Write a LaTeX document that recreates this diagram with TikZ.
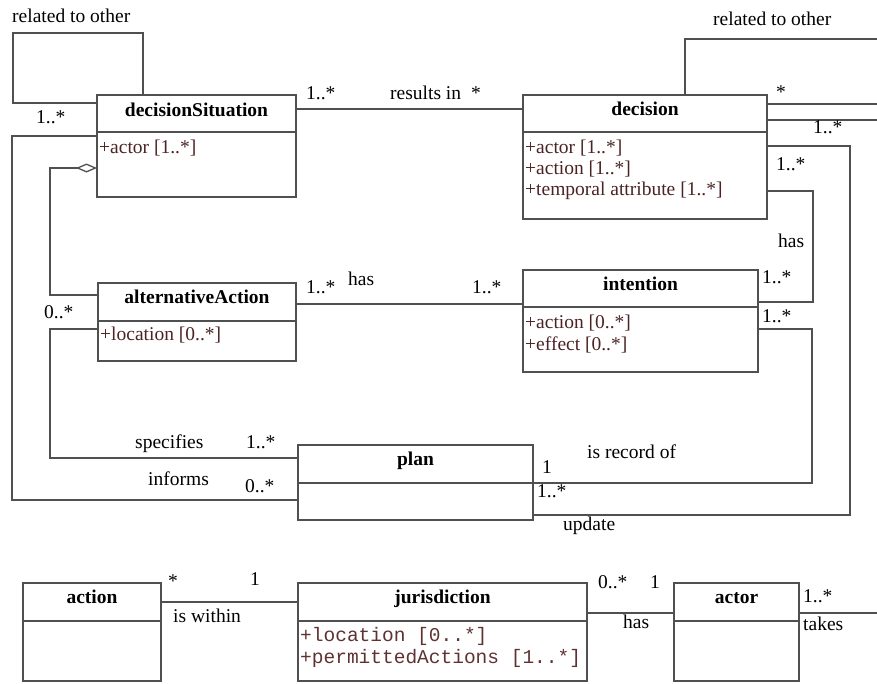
\documentclass[tikz,border=0pt]{standalone}
\usepackage{fontspec}
\setmainfont{Liberation Serif}
\setmonofont{Liberation Mono}
\usetikzlibrary{arrows.meta}
\definecolor{linec}{RGB}{80,80,80}
\definecolor{attrc}{RGB}{75,35,35}
\definecolor{mattrc}{RGB}{95,50,50}
\begin{document}
\begin{tikzpicture}[x=1pt,y=-1pt,
  umlbox/.style={draw=linec, line width=1.3pt, rectangle, inner sep=0, outer sep=0, anchor=north west},
  conn/.style={draw=linec, line width=1.3pt},
  ttl/.style={font=\fontsize{19.5}{22}\selectfont\bfseries, inner sep=0, anchor=base},
  attr/.style={font=\fontsize{19.5}{22}\selectfont, text=attrc, inner sep=0, anchor=base west},
  mattr/.style={font=\fontsize{19.5}{22}\selectfont\ttfamily, text=mattrc, inner sep=0, anchor=base west},
  lbl/.style={font=\fontsize{19.5}{22}\selectfont, inner sep=0, anchor=base west},
]
\useasboundingbox (0,0) rectangle (877,683);

% ---- boxes
\node[umlbox, minimum width=199, minimum height=102] (ds) at (97,95) {};
\node[umlbox, minimum width=244, minimum height=124] (dec) at (523,95) {};
\node[umlbox, minimum width=198, minimum height=78] (aa) at (98,283) {};
\node[umlbox, minimum width=235, minimum height=102] (int) at (523,270) {};
\node[umlbox, minimum width=235, minimum height=75] (plan) at (298,445) {};
\node[umlbox, minimum width=138, minimum height=98] (act) at (23,583) {};
\node[umlbox, minimum width=289, minimum height=98] (jur) at (298,583) {};
\node[umlbox, minimum width=125, minimum height=98] (actor) at (674,583) {};

% ---- dividers
\draw[conn] (ds.west |- 0,132) -- (ds.east |- 0,132);
\draw[conn] (dec.west |- 0,132) -- (dec.east |- 0,132);
\draw[conn] (aa.west |- 0,321) -- (aa.east |- 0,321);
\draw[conn] (int.west |- 0,307) -- (int.east |- 0,307);
\draw[conn] (plan.west |- 0,483) -- (plan.east |- 0,483);
\draw[conn] (act.west |- 0,621) -- (act.east |- 0,621);
\draw[conn] (jur.west |- 0,621) -- (jur.east |- 0,621);
\draw[conn] (actor.west |- 0,621) -- (actor.east |- 0,621);

% ---- titles
\node[ttl] (dst) at (196.5,116) {decisionSituation};
\node[ttl] (dect) at (645,115) {decision};
\node[ttl] (aat) at (197,303) {alternativeAction};
\node[ttl] (intt) at (640.5,290) {intention};
\node[ttl] (plant) at (415.5,465) {plan};
\node[ttl] (actt) at (92,603) {action};
\node[ttl] (jurt) at (442.5,603) {jurisdiction};
\node[ttl] (actort) at (736.5,603) {actor};

% ---- attributes
\node[attr] (dsa1) at (99,153) {+actor [1..*]};
\node[attr] (deca1) at (525,153) {+actor [1..*]};
\node[attr] (deca2) at (525,174) {+action [1..*]};
\node[attr] (deca3) at (525,195) {+temporal attribute [1..*]};
\node[attr] (aaa1) at (100,340) {+location [0..*]};
\node[attr] (inta1) at (525,328) {+action [0..*]};
\node[attr] (inta2) at (525,350) {+effect [0..*]};
\node[mattr] (jura1) at (300,641) {+location [0..*]};
\node[mattr] (jura2) at (300,663) {+permittedActions [1..*]};

% ---- free ends at the right edge
\coordinate (e1) at (877,39);
\coordinate (e2) at (877,104);
\coordinate (e3) at (877,120);
\coordinate (e4) at (877,613);

% ---- connectors
% decisionSituation self association
\draw[conn] (ds.north -| 143,0) |- (13,33) |- (ds.west |- 0,103);
% results in
\draw[conn] (ds.east |- 0,109) -- (dec.west |- 0,109);
% informs
\draw[conn] (ds.west |- 0,136) -| (12,500) -- (plan.west |- 0,500);
% aggregation
\draw[conn, {Diamond[open, length=21pt, width=9pt]}-] (ds.west |- 0,168) -| (50,295) -- (aa.west |- 0,295);
% specifies
\draw[conn] (aa.west |- 0,329) -| (50,458) -- (plan.west |- 0,458);
% has (alternativeAction - intention)
\draw[conn] (aa.east |- 0,304) -- (int.west |- 0,304);
% has (decision - intention)
\draw[conn] (dec.east |- 0,191) -| (813,302) -- (int.east |- 0,302);
% is record of
\draw[conn] (int.east |- 0,329) -| (812,483) -- (plan.east |- 0,483);
% update
\draw[conn] (plan.east |- 0,515) -| (850,146) -- (dec.east |- 0,146);
% decision related to other
\draw[conn] (dec.north -| 685,0) |- (e1);
\draw[conn] (dec.east |- 0,104) -- (e2);
\draw[conn] (dec.east |- 0,120) -- (e3);
% bottom row
\draw[conn] (act.east |- 0,602) -- (jur.west |- 0,602);
\draw[conn] (jur.east |- 0,613) -- (actor.west |- 0,613);
\draw[conn] (actor.east |- 0,613) -- (e4);

% ---- labels
\node[lbl] (l1) at (12,22) {related to other};
\node[lbl] (l2) at (36,123) {1..*};
\node[lbl] (l3) at (306,99) {1..*};
\node[lbl] (l4) at (390,99) {results in};
\node[lbl] (l5) at (471,99) {*};
\node[lbl] (l6) at (713,25) {related to other};
\node[lbl] (l7) at (776,98) {*};
\node[lbl] (l8) at (813,133) {1..*};
\node[lbl] (l9) at (776,170) {1..*};
\node[lbl] (l10) at (778,247) {has};
\node[lbl] (l11) at (762,283) {1..*};
\node[lbl] (l12) at (762,322) {1..*};
\node[lbl] (l13) at (306,293) {1..*};
\node[lbl] (l14) at (348,285) {has};
\node[lbl] (l15) at (472,293) {1..*};
\node[lbl] (l16) at (44,318) {0..*};
\node[lbl] (l17) at (135,448) {specifies};
\node[lbl] (l18) at (246,448) {1..*};
\node[lbl] (l19) at (148,485) {informs};
\node[lbl] (l20) at (245,492) {0..*};
\node[lbl] (l21) at (587,458) {is record of};
\node[lbl] (l22) at (542,473) {1};
\node[lbl] (l23) at (537,497) {1..*};
\node[lbl] (l24) at (563,530) {update};
\node[lbl] (l25) at (168,587) {*};
\node[lbl] (l26) at (250,585) {1};
\node[lbl] (l27) at (173,622) {is within};
\node[lbl] (l28) at (598,588) {0..*};
\node[lbl] (l29) at (650,588) {1};
\node[lbl] (l30) at (623,628) {has};
\node[lbl] (l31) at (803,602) {1..*};
\node[lbl] (l32) at (803,630) {takes};
\end{tikzpicture}
\end{document}
